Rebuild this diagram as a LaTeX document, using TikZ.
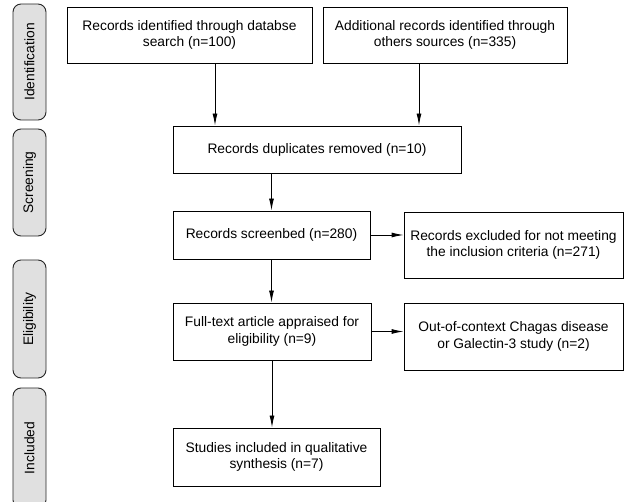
\documentclass[tikz,border=0pt]{standalone}
\usepackage{fontspec}
\setmainfont{Liberation Sans}
\usepackage{tikz}
\usetikzlibrary{arrows.meta,positioning}

\begin{document}
\begin{tikzpicture}
		[x=1pt,y=-1pt,
		box/.style={draw,line width=0.9pt,inner sep=0pt,align=center,
			font=\fontsize{13.8}{16.5}\selectfont},
		phase/.style={draw=black!85,fill=black!12,line width=0.9pt,rounded corners=8pt,
			rotate=90,inner sep=0pt,minimum height=33pt,
			font=\fontsize{13.8}{16.5}\selectfont},
		arr/.style={line width=0.9pt,-{Latex[length=12pt,width=5pt]}}]
		\clip (0,0) rectangle (625,502);
		% phases on the left
		\node[phase,minimum width=116pt] (ident) at (29.5,62) {Identification};
		\node[phase,minimum width=107pt] (screen) at (29.5,182.5) {Screening};
		\node[phase,minimum width=118pt] (elig) at (29.5,319) {Eligibility};
		\node[phase,minimum width=120pt] (included) at (29.5,448) {Included};
		% boxes
		\node[box,minimum width=245pt,minimum height=56pt] (rec1) at (189.5,35)
			{Records identified through databse\\search (n=100)};
		\node[box,minimum width=244pt,minimum height=56pt] (rec2) at (445,35)
			{Additional records identified through\\others sources (n=335)};
		\node[box,minimum width=288pt,minimum height=47pt] (dup) at (317,149.5)
			{Records duplicates removed (n=10)};
		\node[box,minimum width=197pt,minimum height=48pt] (scr) at (271.5,235)
			{Records screenbed (n=280)};
		\node[box,minimum width=219pt,minimum height=66pt] (excl) at (513.5,245)
			{Records excluded for not meeting\\the inclusion criteria (n=271)};
		\node[box,minimum width=198pt,minimum height=57pt] (full) at (272,331.5)
			{Full-text article appraised for\\eligibility (n=9)};
		\node[box,minimum width=219pt,minimum height=67pt] (ooc) at (513.5,336.5)
			{Out-of-context Chagas disease\\or Galectin-3 study (n=2)};
		\node[box,minimum width=207pt,minimum height=58pt] (incl) at (276.5,457)
			{Studies included in qualitative\\synthesis (n=7)};
		% arrows
		\draw[arr] ([xshift=25.5pt]rec1.south) -- ([xshift=25.5pt]rec1.south |- dup.north);
		\draw[arr] ([xshift=-26pt]rec2.south) -- ([xshift=-26pt]rec2.south |- dup.north);
		\draw[arr] (scr.north |- dup.south) -- (scr.north);
		\draw[arr] (scr.south) -- (scr.south |- full.north);
		\draw[arr] (full.south) -- (full.south |- incl.north);
		\draw[arr] (scr.east) -- (scr.east -| excl.west);
		\draw[arr] (full.east) -- (full.east -| ooc.west);
		\end{tikzpicture}
\end{document}
